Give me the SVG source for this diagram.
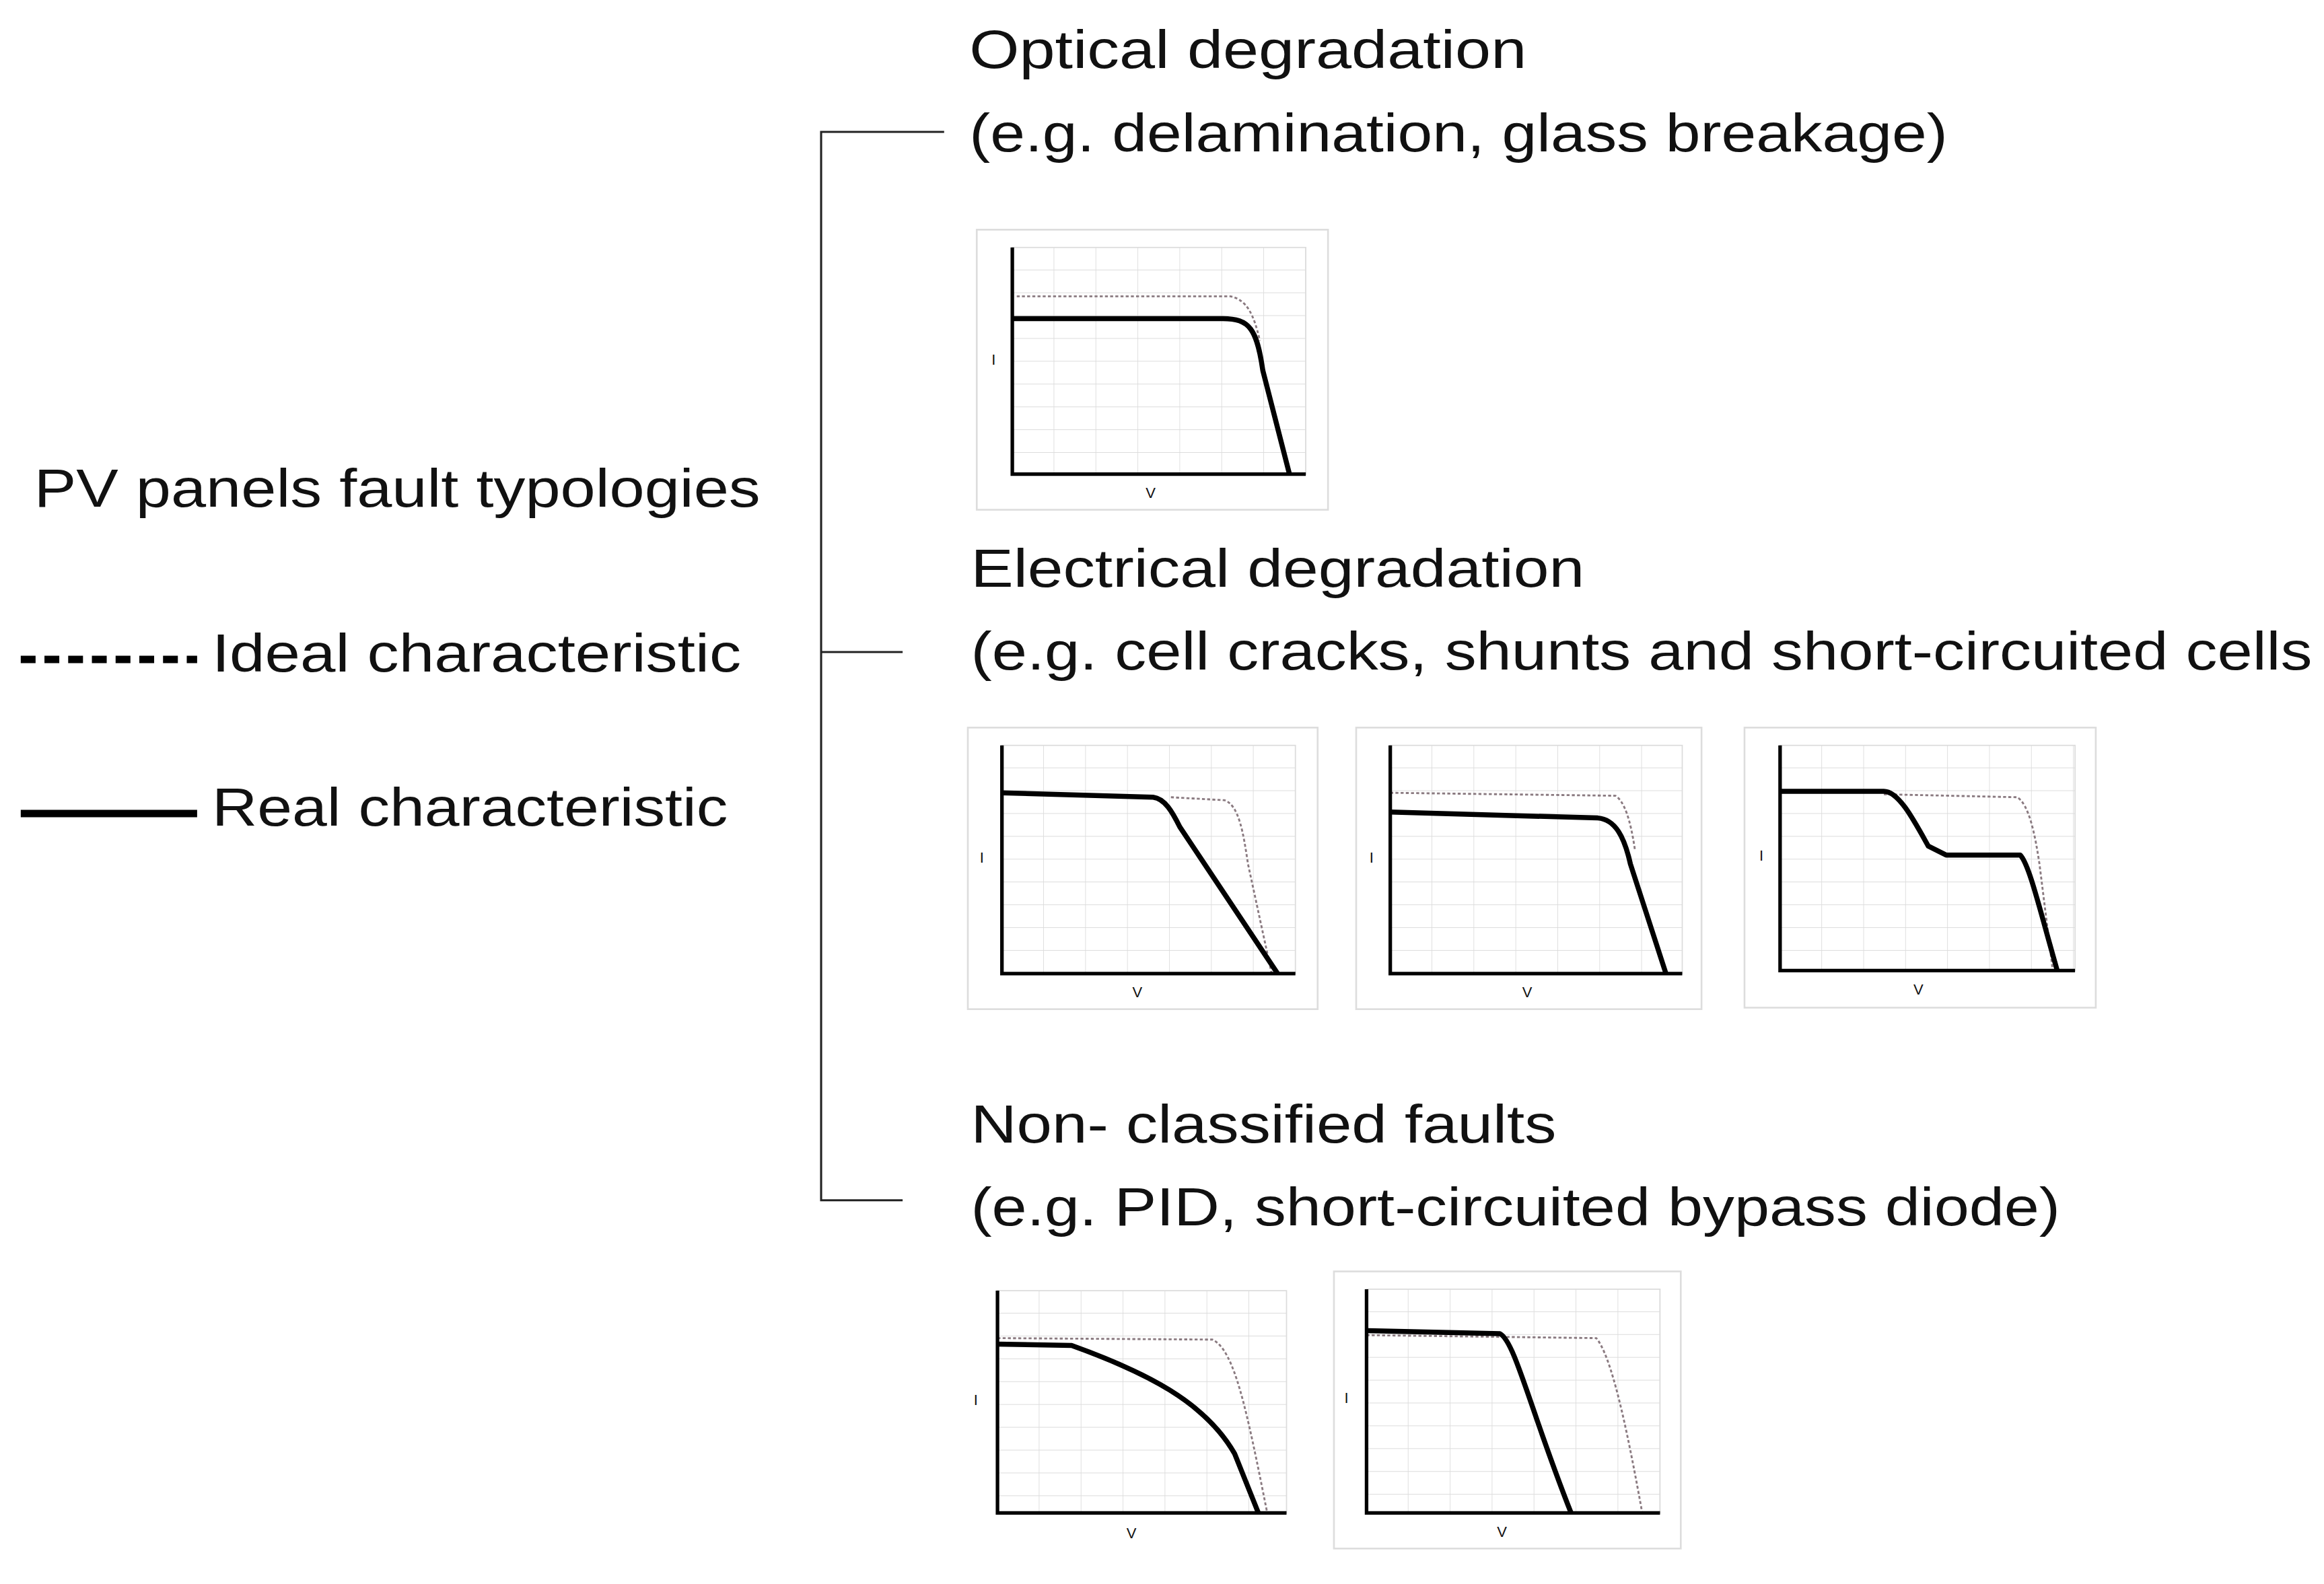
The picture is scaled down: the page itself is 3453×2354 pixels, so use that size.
<svg xmlns="http://www.w3.org/2000/svg" width="3453" height="2354" viewBox="0 0 3453 2354">
<style>
text{font-family:"Liberation Sans","DejaVu Sans",sans-serif;fill:#111}
.t{font-size:36px}
.ax{font-size:10px}
.br{stroke:#222;stroke-width:1.4;fill:none}
.frame{fill:#fff;stroke:#ddd;stroke-width:1.2}
.axis{stroke:#000;stroke-width:2.4;fill:none}
.real{stroke:#000;stroke-width:3.4;fill:none;stroke-linejoin:round}
.ideal{stroke:#8a7a80;stroke-width:1.3;stroke-dasharray:2 1.5;fill:none}
</style>
<defs>
<pattern id="grid" width="28.3" height="15.4" patternUnits="userSpaceOnUse">
<path d="M28.3,0 V15.4 M0,15.4 H28.3" stroke="#dcdcdc" stroke-width="0.8" fill="none"/>
</pattern>
</defs>
<rect width="3453" height="2354" fill="#fff"/>
<g transform="scale(2.2022)">
<g id="root"><text class="t" x="23" y="342" textLength="490" lengthAdjust="spacingAndGlyphs">PV panels fault typologies</text></g>
<g id="legend">
<line x1="14" y1="445" x2="133" y2="445" stroke="#000" stroke-width="5" stroke-dasharray="10 6"/>
<text class="t" x="143" y="453" textLength="357" lengthAdjust="spacingAndGlyphs">Ideal characteristic</text>
<line x1="14" y1="549" x2="133" y2="549" stroke="#000" stroke-width="5"/>
<text class="t" x="143" y="557" textLength="348" lengthAdjust="spacingAndGlyphs">Real characteristic</text>
</g>
<g id="connectors">
<path class="br" d="M637,89 H554 V810 H609 M554,440 H609"/>
</g>
<g id="optical">
<text class="t" x="654" y="46" textLength="376" lengthAdjust="spacingAndGlyphs">Optical degradation</text>
<text class="t" x="654" y="102" textLength="660" lengthAdjust="spacingAndGlyphs">(e.g. delamination, glass breakage)</text>
</g>
<g id="electrical">
<text class="t" x="655" y="396" textLength="414" lengthAdjust="spacingAndGlyphs">Electrical degradation</text>
<text class="t" x="655" y="452" textLength="905" lengthAdjust="spacingAndGlyphs">(e.g. cell cracks, shunts and short-circuited cells</text>
</g>
<g id="nonclassified">
<text class="t" x="655" y="771" textLength="395" lengthAdjust="spacingAndGlyphs">Non- classified faults</text>
<text class="t" x="655" y="827" textLength="735" lengthAdjust="spacingAndGlyphs">(e.g. PID, short-circuited bypass diode)</text>
</g>
<g id="chart1" transform="translate(683,167)">
<rect class="frame" x="-24" y="-12" width="237" height="189"/>
<rect x="0" y="0" width="198" height="153" fill="url(#grid)" stroke="#dcdcdc" stroke-width="0.8"/>
<path class="ideal" d="M3,33 L147,33 C158,35 163,45 167,63"/>
<path class="real" d="M0,48 L142,48 C160,48 165,55 169,83 L187,153"/>
<path class="axis" d="M0,0 V153 H198"/>
<text class="ax" x="-14" y="79">I</text><text class="ax" x="90" y="169">V</text>
</g>
<g id="chart2" transform="translate(676,503)">
<rect class="frame" x="-23" y="-12" width="236" height="190"/>
<rect x="0" y="0" width="198" height="154" fill="url(#grid)" stroke="#dcdcdc" stroke-width="0.8"/>
<path class="ideal" d="M114,35 L150,37 C160,40 163,60 166,80 L182,154"/>
<path class="real" d="M0,32 L102,35 C110,36 115,45 120,55 L186,154"/>
<path class="axis" d="M0,0 V154 H198"/>
<text class="ax" x="-15" y="79">I</text><text class="ax" x="88" y="170">V</text>
</g>
<g id="chart3" transform="translate(938,503)">
<rect class="frame" x="-23" y="-12" width="233" height="190"/>
<rect x="0" y="0" width="197" height="154" fill="url(#grid)" stroke="#dcdcdc" stroke-width="0.8"/>
<path class="ideal" d="M0,32 L152,34 C158,38 162,50 165,70"/>
<path class="real" d="M0,45 L140,49 C152,50 158,62 162,80 L186,154"/>
<path class="axis" d="M0,0 V154 H197"/>
<text class="ax" x="-14" y="79">I</text><text class="ax" x="89" y="170">V</text>
</g>
<g id="chart4" transform="translate(1201,503)">
<rect class="frame" x="-24" y="-12" width="237" height="189"/>
<rect x="0" y="0" width="199" height="152" fill="url(#grid)" stroke="#dcdcdc" stroke-width="0.8"/>
<path class="ideal" d="M70,33 L160,35 C168,40 172,60 175,80 L184,152"/>
<path class="real" d="M0,31 L70,31 C80,31 90,50 100,68 L112,74 L162,74 C168,80 175,110 187,152"/>
<path class="axis" d="M0,0 V152 H199"/>
<text class="ax" x="-14" y="78">I</text><text class="ax" x="90" y="168">V</text>
</g>
<g id="chart5" transform="translate(673,871)">
<rect x="0" y="0" width="195" height="150" fill="url(#grid)" stroke="#dcdcdc" stroke-width="0.8"/>
<path class="ideal" d="M0,32 L145,33 C160,40 168,80 182,150"/>
<path class="real" d="M0,36 L50,37 C100,55 140,75 160,110 L176,150"/>
<path class="axis" d="M0,0 V150 H195"/>
<text class="ax" x="-16" y="77">I</text><text class="ax" x="87" y="167">V</text>
</g>
<g id="chart6" transform="translate(922,870)">
<rect class="frame" x="-22" y="-12" width="234" height="187"/>
<rect x="0" y="0" width="198" height="151" fill="url(#grid)" stroke="#dcdcdc" stroke-width="0.8"/>
<path class="ideal" d="M0,31 L155,33 C165,45 175,90 186,151"/>
<path class="real" d="M0,28 L90,30 C100,35 110,80 138,151"/>
<path class="axis" d="M0,0 V151 H198"/>
<text class="ax" x="-15" y="77">I</text><text class="ax" x="88" y="167">V</text>
</g>
</g>
</svg>
